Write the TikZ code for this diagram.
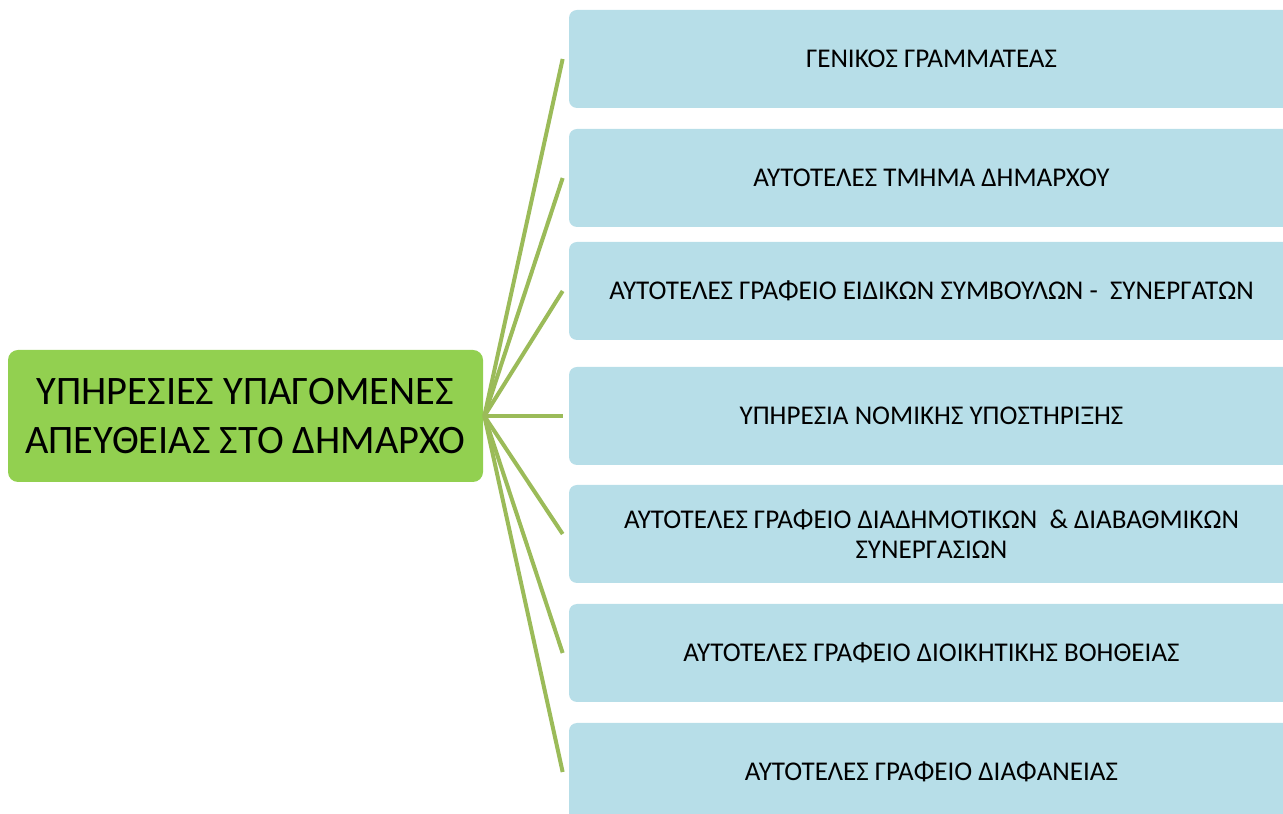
\documentclass[tikz,border=0pt]{standalone}
\usepackage{fontspec}
\setmainfont{Carlito}
\usepackage{tikz}

\definecolor{hubgreen}{HTML}{92D050}
\definecolor{boxblue}{HTML}{B7DEE8}
\definecolor{linkgreen}{HTML}{9BBB59}

\tikzset{
  mayor/.style={fill=hubgreen, rounded corners=0.2cm, minimum width=9.5cm,
    minimum height=2.64cm, align=center, font=\fontsize{23}{28}\selectfont},
  unit/.style={fill=boxblue, rounded corners=0.16cm, minimum width=14.5cm,
    minimum height=1.96cm, align=center, font=\fontsize{15.4}{17}\selectfont},
  link/.style={draw=linkgreen, line width=0.08cm}
}

\begin{document}
\begin{tikzpicture}
    \useasboundingbox (0, 0) rectangle (25.66, 16.28);

    % Main box
    \node[mayor] (mayor) at (4.91, 7.96) {ΥΠΗΡΕΣΙΕΣ ΥΠΑΓΟΜΕΝΕΣ\\ΑΠΕΥΘΕΙΑΣ ΣΤΟ ΔΗΜΑΡΧΟ};

    % Service boxes
    \node[unit] (gen) at (18.63, 15.10) {ΓΕΝΙΚΟΣ ΓΡΑΜΜΑΤΕΑΣ};
    \node[unit] (tmima) at (18.63, 12.72) {ΑΥΤΟΤΕΛΕΣ ΤΜΗΜΑ ΔΗΜΑΡΧΟΥ};
    \node[unit] (symb) at (18.63, 10.46) {ΑΥΤΟΤΕΛΕΣ ΓΡΑΦΕΙΟ ΕΙΔΙΚΩΝ ΣΥΜΒΟΥΛΩΝ -\ \ ΣΥΝΕΡΓΑΤΩΝ};
    \node[unit] (nomiki) at (18.63, 7.96) {ΥΠΗΡΕΣΙΑ ΝΟΜΙΚΗΣ ΥΠΟΣΤΗΡΙΞΗΣ};
    \node[unit] (diadim) at (18.63, 5.60) {ΑΥΤΟΤΕΛΕΣ ΓΡΑΦΕΙΟ ΔΙΑΔΗΜΟΤΙΚΩΝ\ \ \& ΔΙΑΒΑΘΜΙΚΩΝ\\ΣΥΝΕΡΓΑΣΙΩΝ};
    \node[unit] (dioik) at (18.63, 3.22) {ΑΥΤΟΤΕΛΕΣ ΓΡΑΦΕΙΟ ΔΙΟΙΚΗΤΙΚΗΣ ΒΟΗΘΕΙΑΣ};
    \node[unit] (diaf) at (18.63, 0.84) {ΑΥΤΟΤΕΛΕΣ ΓΡΑΦΕΙΟ ΔΙΑΦΑΝΕΙΑΣ};

    % Connectors
    \coordinate (hub) at ([xshift=0.02cm]mayor.east);
    \foreach \n in {gen, tmima, symb, nomiki, diadim, dioik, diaf}
      \draw[link] (hub) -- ([xshift=-0.12cm]\n.west);
\end{tikzpicture}
\end{document}
